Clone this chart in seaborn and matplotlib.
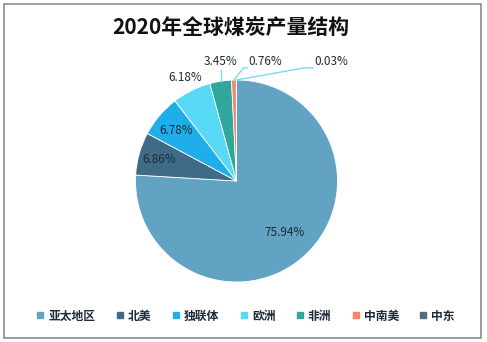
import numpy as np
import matplotlib
matplotlib.use("Agg")
import matplotlib.pyplot as plt
import seaborn as sns
from matplotlib.patches import Rectangle
from matplotlib.lines import Line2D

categories = ["亚太地区", "北美", "独联体", "欧洲", "非洲", "中南美", "中东"]
values = [75.94, 6.86, 6.78, 6.18, 3.45, 0.76, 0.03]
labels = ["75.94%", "6.86%", "6.78%", "6.18%", "3.45%", "0.76%", "0.03%"]
colors = ["#62a3c3", "#3f6b86", "#1eaeea", "#58d9f5", "#2fa79c", "#f4866a", "#4f6b7f"]
title = "2020年全球煤炭产量结构"

sns.set_theme(style="white")
plt.rcParams['font.family'] = ['Noto Sans CJK SC', 'DejaVu Sans']

W, H = 487, 342
fig = plt.figure(figsize=(W / 100, H / 100), dpi=100)
fig.patch.set_facecolor("white")

# frame
fig.add_artist(Rectangle((4 / W, 4 / H), 477 / W, 334 / H, transform=fig.transFigure,
                         fill=False, edgecolor="#8c8c8c", linewidth=1.2))

cx, cy, r = 236.5, H - 181, 101
ax = fig.add_axes([(cx - r) / W, (cy - r) / H, 2 * r / W, 2 * r / H])
palette = sns.color_palette(colors)
wedges, _ = ax.pie(values, colors=palette, startangle=90, counterclock=False,
                   wedgeprops=dict(edgecolor="white", linewidth=0.6))
ax.set_xlim(-1, 1)
ax.set_ylim(-1, 1)
ax.set_aspect("equal")
ax.axis("off")

txt_color = "#1d2b3a"
inside = {0: 0.70, 1: 0.80, 2: 0.78}
for i, w in enumerate(wedges):
    mid = np.deg2rad((w.theta1 + w.theta2) / 2)
    if i in inside:
        d = inside[i]
        ax.text(d * np.cos(mid), d * np.sin(mid), labels[i], ha="center", va="center",
                fontsize=8.5, color=txt_color)
    elif i == 3:
        d = 1.14
        ax.text(d * np.cos(mid), d * np.sin(mid), labels[i], ha="center", va="center",
                fontsize=8.5, color=txt_color)

lc = "#7fd6f2"
w = wedges[4]
mid = np.deg2rad((w.theta1 + w.theta2) / 2)
x0, y0 = np.cos(mid), np.sin(mid)
ax.plot([x0, x0], [y0, 1.10], color=lc, lw=1, clip_on=False)
ax.text(x0, 1.12, labels[4], ha="center", va="bottom", fontsize=8.5, color=txt_color)
w = wedges[5]
mid = np.deg2rad((w.theta1 + w.theta2) / 2)
x0, y0 = np.cos(mid), np.sin(mid)
ax.plot([x0, 0.07, 0.11], [y0, 1.12, 1.12], color=lc, lw=1, clip_on=False)
ax.text(0.12, 1.12, labels[5], ha="left", va="bottom", fontsize=8.5, color=txt_color)
w = wedges[6]
mid = np.deg2rad((w.theta1 + w.theta2) / 2)
x0, y0 = np.cos(mid), np.sin(mid)
ax.plot([x0, 0.67, 0.76], [y0, 1.12, 1.12], color=lc, lw=1, clip_on=False)
ax.text(0.77, 1.12, labels[6], ha="left", va="bottom", fontsize=8.5, color=txt_color)

fig.text(0.475, (H - 27) / H, title, ha="center", va="center", fontsize=15,
         fontweight="bold", color="#111111")

handles = [Line2D([0], [0], marker="s", linestyle="none", markersize=5,
                  markerfacecolor=c, markeredgecolor=c) for c in palette]
leg = fig.legend(handles, categories, loc="center", bbox_to_anchor=(0.505, 26 / H),
                 ncol=7, frameon=False, fontsize=8.5, handlelength=0.6,
                 handletextpad=0.4, columnspacing=1.75)
for t in leg.get_texts():
    t.set_fontweight("bold")
    t.set_color("#1d2b3a")

fig.savefig("out.png", dpi=100, facecolor="white")
